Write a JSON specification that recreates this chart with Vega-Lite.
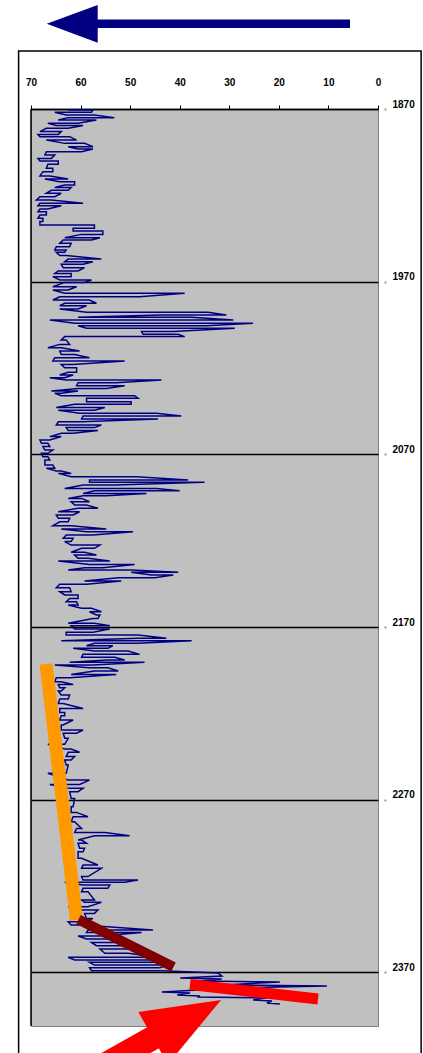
{
"$schema": "https://vega.github.io/schema/vega-lite/v6.json",
"autosize": "none",
"width": 347,
"height": 917,
"padding": {"left": 31, "top": 109, "right": 45, "bottom": 27},
"background": "white",
"config": {
  "view": {"fill": "#C0C0C0", "stroke": "#808080", "strokeWidth": 1},
  "axis": {"labelFont": "Liberation Sans", "labelFontWeight": "bold", "labelFontSize": 10, "labelColor": "#000", "title": null, "labelOverlap": false}
},
"layer": [
{
  "data": {"values": [
{"d":1870.6,"v":62.5},{"d":1870.6,"v":57.5},{"d":1871.9,"v":57.8},{"d":1871.9,"v":65.2},{"d":1873.5,"v":62.9},{"d":1873.5,"v":57.2},{"d":1875.0,"v":53.2},{"d":1875.0,"v":62.5},{"d":1876.4,"v":64.5},{"d":1876.4,"v":56.8},
{"d":1878.3,"v":60.5},{"d":1878.3,"v":66.6},{"d":1879.6,"v":64.9},{"d":1879.6,"v":59.5},{"d":1881.2,"v":62.5},{"d":1881.2,"v":66.9},{"d":1883.1,"v":68.2},{"d":1883.1,"v":63.9},{"d":1884.7,"v":64.5},{"d":1884.7,"v":68.6},
{"d":1886.0,"v":68.2},{"d":1886.0,"v":62.2},{"d":1888.0,"v":60.8},{"d":1888.0,"v":66.9},{"d":1889.9,"v":63.2},{"d":1889.9,"v":59.2},{"d":1891.8,"v":57.5},{"d":1891.8,"v":62.5},{"d":1893.2,"v":60.5},{"d":1893.2,"v":57.5},
{"d":1894.7,"v":59.8},{"d":1894.7,"v":66.9},{"d":1896.6,"v":67.2},{"d":1896.6,"v":65.2},{"d":1898.6,"v":65.9},{"d":1898.6,"v":68.6},{"d":1900.1,"v":68.2},{"d":1900.1,"v":64.5},{"d":1902.0,"v":64.5},{"d":1902.0,"v":66.6},
{"d":1904.3,"v":66.9},{"d":1904.3,"v":65.6},{"d":1906.3,"v":65.6},{"d":1906.3,"v":67.6},{"d":1908.8,"v":68.2},{"d":1908.8,"v":66.2},{"d":1910.5,"v":62.5},{"d":1910.5,"v":67.2},{"d":1912.1,"v":64.2},{"d":1912.1,"v":61.2},
{"d":1914.0,"v":61.2},{"d":1914.0,"v":63.2},{"d":1915.5,"v":65.2},{"d":1915.5,"v":61.9},{"d":1917.1,"v":62.5},{"d":1917.1,"v":65.9},{"d":1918.8,"v":66.9},{"d":1918.8,"v":63.9},{"d":1920.8,"v":65.2},{"d":1920.8,"v":68.2},
{"d":1922.7,"v":68.9},{"d":1922.7,"v":65.9},{"d":1924.6,"v":59.5},{"d":1924.6,"v":68.2},{"d":1926.0,"v":68.6},{"d":1926.0,"v":63.9},{"d":1927.9,"v":66.6},{"d":1927.9,"v":68.2},{"d":1929.5,"v":68.6},{"d":1929.5,"v":66.9},
{"d":1931.4,"v":66.9},{"d":1931.4,"v":68.2},{"d":1933.3,"v":68.6},{"d":1933.3,"v":67.6},{"d":1935.2,"v":67.6},{"d":1935.2,"v":68.2},{"d":1937.2,"v":68.2},{"d":1937.2,"v":57.2},{"d":1939.1,"v":57.2},{"d":1939.1,"v":61.5},
{"d":1940.6,"v":61.5},{"d":1940.6,"v":55.5},{"d":1942.6,"v":55.5},{"d":1942.6,"v":59.8},{"d":1944.5,"v":63.2},{"d":1944.5,"v":56.1},{"d":1945.9,"v":57.8},{"d":1945.9,"v":63.5},{"d":1947.8,"v":64.2},{"d":1947.8,"v":61.9},
{"d":1949.7,"v":62.2},{"d":1949.7,"v":64.9},{"d":1951.6,"v":65.2},{"d":1951.6,"v":62.9},{"d":1953.0,"v":63.2},{"d":1953.0,"v":64.9},{"d":1954.9,"v":64.2},{"d":1954.9,"v":62.9},{"d":1956.9,"v":55.8},{"d":1956.9,"v":62.5},
{"d":1958.4,"v":63.2},{"d":1958.4,"v":57.5},{"d":1959.9,"v":59.5},{"d":1959.9,"v":63.9},{"d":1961.9,"v":63.5},{"d":1961.9,"v":59.2},{"d":1963.8,"v":60.5},{"d":1963.8,"v":64.5},{"d":1965.2,"v":65.2},{"d":1965.2,"v":61.9},
{"d":1967.1,"v":61.9},{"d":1967.1,"v":65.6},{"d":1969.0,"v":64.2},{"d":1969.0,"v":57.8},{"d":1970.4,"v":59.2},{"d":1970.4,"v":63.2},{"d":1972.9,"v":65.6},{"d":1972.9,"v":60.8},{"d":1974.8,"v":62.5},{"d":1974.8,"v":65.6},
{"d":1976.7,"v":63.2},{"d":1976.7,"v":39.0},{"d":1978.7,"v":48.1},{"d":1978.7,"v":64.2},{"d":1980.6,"v":65.6},{"d":1980.6,"v":58.2},{"d":1982.5,"v":56.8},{"d":1982.5,"v":63.2},{"d":1983.9,"v":64.2},{"d":1983.9,"v":58.8},
{"d":1985.8,"v":60.5},{"d":1985.8,"v":64.2},{"d":1987.7,"v":58.8},{"d":1987.7,"v":34.3},{"d":1989.3,"v":30.6},{"d":1989.3,"v":43.7},{"d":1990.6,"v":60.5},{"d":1990.6,"v":37.6},{"d":1992.2,"v":29.2},{"d":1992.2,"v":66.2},
{"d":1994.1,"v":61.2},{"d":1994.1,"v":25.2},{"d":1995.5,"v":34.6},{"d":1995.5,"v":60.5},{"d":1997.0,"v":58.8},{"d":1997.0,"v":28.9},{"d":1998.9,"v":41.3},{"d":1998.9,"v":47.7},{"d":2000.5,"v":47.4},{"d":2000.5,"v":40.3},
{"d":2001.8,"v":39.0},{"d":2001.8,"v":63.2},{"d":2003.8,"v":63.9},{"d":2003.8,"v":62.9},{"d":2006.3,"v":62.2},{"d":2006.3,"v":64.2},{"d":2008.2,"v":66.6},{"d":2008.2,"v":63.9},{"d":2010.1,"v":60.2},{"d":2010.1,"v":64.2},
{"d":2012.1,"v":63.9},{"d":2012.1,"v":61.2},{"d":2014.0,"v":58.2},{"d":2014.0,"v":65.2},{"d":2015.9,"v":65.6},{"d":2015.9,"v":51.1},{"d":2017.9,"v":61.5},{"d":2017.9,"v":63.9},{"d":2019.8,"v":63.2},{"d":2019.8,"v":60.8},
{"d":2022.5,"v":60.8},{"d":2022.5,"v":62.5},{"d":2024.0,"v":64.2},{"d":2024.0,"v":61.5},{"d":2025.6,"v":63.2},{"d":2025.6,"v":66.2},{"d":2026.9,"v":62.9},{"d":2026.9,"v":43.7},{"d":2028.5,"v":52.8},{"d":2028.5,"v":60.5},
{"d":2030.2,"v":60.8},{"d":2030.2,"v":51.1},{"d":2031.8,"v":54.8},{"d":2031.8,"v":60.5},{"d":2033.3,"v":65.9},{"d":2033.3,"v":60.5},{"d":2034.6,"v":63.9},{"d":2034.6,"v":65.2},{"d":2036.0,"v":63.9},{"d":2036.0,"v":49.1},
{"d":2037.5,"v":48.4},{"d":2037.5,"v":58.8},{"d":2039.5,"v":58.8},{"d":2039.5,"v":49.8},{"d":2041.0,"v":49.8},{"d":2041.0,"v":61.2},{"d":2042.9,"v":64.9},{"d":2042.9,"v":55.1},{"d":2044.5,"v":57.2},{"d":2044.5,"v":64.5},
{"d":2046.2,"v":60.2},{"d":2046.2,"v":44.7},{"d":2047.8,"v":39.7},{"d":2047.8,"v":59.5},{"d":2049.5,"v":59.8},{"d":2049.5,"v":44.4},{"d":2051.1,"v":59.8},{"d":2051.1,"v":64.5},{"d":2053.0,"v":64.9},{"d":2053.0,"v":55.8},
{"d":2054.5,"v":57.2},{"d":2054.5,"v":62.9},{"d":2056.1,"v":62.5},{"d":2056.1,"v":56.5},{"d":2057.8,"v":61.5},{"d":2057.8,"v":63.9},{"d":2059.7,"v":66.2},{"d":2059.7,"v":63.9},{"d":2061.7,"v":66.2},{"d":2061.7,"v":68.2},
{"d":2063.6,"v":67.9},{"d":2063.6,"v":66.6},{"d":2065.5,"v":66.2},{"d":2065.5,"v":67.6},{"d":2067.5,"v":67.2},{"d":2067.5,"v":65.6},{"d":2069.4,"v":66.6},{"d":2069.4,"v":67.9},{"d":2071.3,"v":67.6},{"d":2071.3,"v":66.6},
{"d":2073.3,"v":66.2},{"d":2073.3,"v":67.2},{"d":2076.1,"v":67.2},{"d":2076.1,"v":65.6},{"d":2078.1,"v":65.2},{"d":2078.1,"v":66.9},{"d":2079.6,"v":64.9},{"d":2079.6,"v":63.9},{"d":2081.0,"v":61.9},{"d":2081.0,"v":64.5},
{"d":2082.9,"v":61.9},{"d":2082.9,"v":48.7},{"d":2084.8,"v":38.3},{"d":2084.8,"v":58.2},{"d":2086.2,"v":58.2},{"d":2086.2,"v":35.0},{"d":2087.7,"v":53.1},{"d":2087.7,"v":59.5},{"d":2089.7,"v":63.2},{"d":2089.7,"v":44.7},
{"d":2091.0,"v":40.0},{"d":2091.0,"v":57.2},{"d":2092.6,"v":59.5},{"d":2092.6,"v":46.7},{"d":2093.9,"v":54.8},{"d":2093.9,"v":59.5},{"d":2095.5,"v":62.5},{"d":2095.5,"v":59.8},{"d":2097.4,"v":58.2},{"d":2097.4,"v":61.9},
{"d":2099.3,"v":61.2},{"d":2099.3,"v":58.8},{"d":2101.2,"v":56.5},{"d":2101.2,"v":60.5},{"d":2103.2,"v":64.5},{"d":2103.2,"v":60.2},{"d":2105.1,"v":61.5},{"d":2105.1,"v":64.9},{"d":2107.0,"v":64.5},{"d":2107.0,"v":62.2},
{"d":2109.0,"v":62.5},{"d":2109.0,"v":64.2},{"d":2111.3,"v":65.6},{"d":2111.3,"v":61.9},{"d":2113.2,"v":54.8},{"d":2113.2,"v":63.9},{"d":2114.8,"v":58.8},{"d":2114.8,"v":49.4},{"d":2116.7,"v":57.5},{"d":2116.7,"v":62.9},
{"d":2118.6,"v":63.5},{"d":2118.6,"v":61.5},{"d":2120.5,"v":61.9},{"d":2120.5,"v":63.2},{"d":2122.5,"v":61.9},{"d":2122.5,"v":56.1},{"d":2124.4,"v":57.2},{"d":2124.4,"v":59.8},{"d":2126.7,"v":61.9},{"d":2126.7,"v":59.2},
{"d":2128.3,"v":56.8},{"d":2128.3,"v":61.2},{"d":2130.2,"v":60.5},{"d":2130.2,"v":58.5},{"d":2131.7,"v":54.1},{"d":2131.7,"v":64.5},{"d":2133.7,"v":58.2},{"d":2133.7,"v":49.1},{"d":2135.6,"v":55.5},{"d":2135.6,"v":59.2},
{"d":2136.9,"v":62.5},{"d":2136.9,"v":49.8},{"d":2138.3,"v":40.3},{"d":2138.3,"v":49.8},{"d":2139.8,"v":45.7},{"d":2139.8,"v":41.3},{"d":2141.4,"v":45.0},{"d":2141.4,"v":52.4},{"d":2143.3,"v":59.2},{"d":2143.3,"v":51.8},
{"d":2145.2,"v":58.8},{"d":2145.2,"v":64.2},{"d":2147.2,"v":64.9},{"d":2147.2,"v":62.2},{"d":2149.5,"v":61.9},{"d":2149.5,"v":64.2},{"d":2151.4,"v":63.2},{"d":2151.4,"v":60.5},{"d":2153.4,"v":60.5},{"d":2153.4,"v":62.2},
{"d":2155.3,"v":62.9},{"d":2155.3,"v":60.8},{"d":2157.2,"v":60.5},{"d":2157.2,"v":62.5},{"d":2159.1,"v":59.8},{"d":2159.1,"v":57.8},{"d":2161.1,"v":55.8},{"d":2161.1,"v":58.2},{"d":2163.0,"v":56.8},{"d":2163.0,"v":56.1},
{"d":2165.0,"v":56.5},{"d":2165.0,"v":57.5},{"d":2167.8,"v":62.5},{"d":2167.8,"v":57.2},{"d":2169.2,"v":54.1},{"d":2169.2,"v":61.9},{"d":2171.1,"v":61.2},{"d":2171.1,"v":54.1},{"d":2173.0,"v":57.5},{"d":2173.0,"v":62.9},
{"d":2174.6,"v":62.9},{"d":2174.6,"v":48.4},{"d":2176.5,"v":42.7},{"d":2176.5,"v":48.4},{"d":2177.9,"v":63.9},{"d":2177.9,"v":37.6},{"d":2179.4,"v":48.4},{"d":2179.4,"v":57.2},{"d":2180.8,"v":58.8},{"d":2180.8,"v":53.5},
{"d":2182.3,"v":54.5},{"d":2182.3,"v":61.5},{"d":2183.9,"v":57.2},{"d":2183.9,"v":50.4},{"d":2185.8,"v":48.1},{"d":2185.8,"v":59.5},{"d":2187.5,"v":59.8},{"d":2187.5,"v":53.1},{"d":2189.1,"v":51.1},{"d":2189.1,"v":54.5},
{"d":2190.4,"v":62.2},{"d":2190.4,"v":47.1},{"d":2192.0,"v":57.5},{"d":2192.0,"v":65.2},{"d":2193.5,"v":58.2},{"d":2193.5,"v":54.5},{"d":2195.4,"v":52.4},{"d":2195.4,"v":57.2},{"d":2197.4,"v":61.9},{"d":2197.4,"v":52.8},
{"d":2199.3,"v":62.2},{"d":2199.3,"v":64.9},{"d":2201.6,"v":65.2},{"d":2201.6,"v":63.9},{"d":2203.2,"v":61.5},{"d":2203.2,"v":64.5},{"d":2205.1,"v":64.2},{"d":2205.1,"v":63.2},{"d":2207.0,"v":63.9},{"d":2207.0,"v":64.5},
{"d":2209.3,"v":63.9},{"d":2209.3,"v":62.2},{"d":2211.6,"v":62.5},{"d":2211.6,"v":64.2},{"d":2214.2,"v":64.5},{"d":2214.2,"v":63.5},{"d":2217.1,"v":59.5},{"d":2217.1,"v":64.2},{"d":2219.4,"v":64.2},{"d":2219.4,"v":63.2},
{"d":2221.3,"v":63.2},{"d":2221.3,"v":63.9},{"d":2223.8,"v":64.2},{"d":2223.8,"v":61.5},{"d":2226.7,"v":63.5},{"d":2226.7,"v":63.9},{"d":2229.6,"v":63.9},{"d":2229.6,"v":59.5},{"d":2231.5,"v":60.8},{"d":2231.5,"v":63.5},
{"d":2234.4,"v":63.2},{"d":2234.4,"v":62.5},{"d":2237.9,"v":63.2},{"d":2237.9,"v":66.6},{"d":2240.6,"v":63.2},{"d":2240.6,"v":61.9},{"d":2242.5,"v":60.2},{"d":2242.5,"v":62.5},{"d":2245.0,"v":62.9},{"d":2245.0,"v":61.2},
{"d":2247.0,"v":61.9},{"d":2247.0,"v":63.2},{"d":2249.9,"v":62.9},{"d":2249.9,"v":62.5},{"d":2254.7,"v":62.9},{"d":2254.7,"v":66.6},{"d":2258.6,"v":62.5},{"d":2258.6,"v":58.2},{"d":2261.1,"v":60.2},{"d":2261.1,"v":66.2},
{"d":2263.4,"v":62.2},{"d":2263.4,"v":59.5},{"d":2265.3,"v":60.5},{"d":2265.3,"v":62.2},{"d":2269.2,"v":61.9},{"d":2269.2,"v":61.2},{"d":2274.0,"v":61.5},{"d":2274.0,"v":61.9},{"d":2277.3,"v":61.9},{"d":2277.3,"v":60.8},
{"d":2279.8,"v":58.5},{"d":2279.8,"v":61.5},{"d":2282.7,"v":61.9},{"d":2282.7,"v":61.2},{"d":2286.6,"v":59.8},{"d":2286.6,"v":60.8},{"d":2288.9,"v":61.2},{"d":2288.9,"v":55.1},{"d":2290.8,"v":50.1},{"d":2290.8,"v":57.2},
{"d":2293.3,"v":60.5},{"d":2293.3,"v":59.8},{"d":2295.2,"v":58.8},{"d":2295.2,"v":60.5},{"d":2298.1,"v":60.2},{"d":2298.1,"v":59.2},{"d":2300.1,"v":59.5},{"d":2300.1,"v":60.5},{"d":2303.9,"v":60.5},{"d":2303.9,"v":59.8},
{"d":2307.8,"v":56.5},{"d":2307.8,"v":59.5},{"d":2309.7,"v":59.8},{"d":2309.7,"v":55.8},{"d":2314.5,"v":58.5},{"d":2314.5,"v":59.8},{"d":2316.5,"v":59.5},{"d":2316.5,"v":48.4},{"d":2317.8,"v":51.1},{"d":2317.8,"v":63.2},
{"d":2319.4,"v":59.5},{"d":2319.4,"v":54.1},{"d":2321.3,"v":54.5},{"d":2321.3,"v":59.5},{"d":2323.2,"v":59.8},{"d":2323.2,"v":58.5},{"d":2328.0,"v":57.2},{"d":2328.0,"v":59.8},{"d":2329.4,"v":59.2},{"d":2329.4,"v":55.8},
{"d":2331.9,"v":58.5},{"d":2331.9,"v":62.5},{"d":2333.8,"v":59.8},{"d":2333.8,"v":56.5},{"d":2335.8,"v":57.2},{"d":2335.8,"v":59.2},{"d":2338.7,"v":58.8},{"d":2338.7,"v":57.5},{"d":2340.6,"v":59.8},{"d":2340.6,"v":62.5},
{"d":2342.5,"v":61.9},{"d":2342.5,"v":59.5},{"d":2345.4,"v":45.4},{"d":2345.4,"v":58.5},{"d":2346.8,"v":58.8},{"d":2346.8,"v":47.7},{"d":2348.9,"v":55.8},{"d":2348.9,"v":60.5},{"d":2350.6,"v":58.8},{"d":2350.6,"v":51.8},
{"d":2352.6,"v":50.4},{"d":2352.6,"v":57.8},{"d":2354.5,"v":56.8},{"d":2354.5,"v":48.4},{"d":2356.4,"v":47.7},{"d":2356.4,"v":56.1},{"d":2358.9,"v":55.1},{"d":2358.9,"v":50.4},{"d":2361.2,"v":44.4},{"d":2361.2,"v":62.5},
{"d":2362.8,"v":61.2},{"d":2362.8,"v":45.0},{"d":2364.1,"v":44.4},{"d":2364.1,"v":58.2},{"d":2365.7,"v":57.2},{"d":2365.7,"v":42.4},{"d":2367.2,"v":44.0},{"d":2367.2,"v":58.2},{"d":2369.0,"v":57.8},{"d":2369.0,"v":43.7},
{"d":2370.3,"v":32.3},{"d":2372.1,"v":31.5},{"d":2373.2,"v":39.9},{"d":2373.8,"v":31.5},{"d":2374.9,"v":35.9},{"d":2375.5,"v":19.8},{"d":2377.2,"v":31.3},{"d":2377.8,"v":10.3},{"d":2378.9,"v":27.8},{"d":2381.3,"v":43.6},
{"d":2381.9,"v":37.9},{"d":2383.1,"v":40.5},{"d":2383.6,"v":35.9},{"d":2384.2,"v":36.5},{"d":2384.8,"v":22.4},{"d":2385.9,"v":25.2},{"d":2386.5,"v":21.4},{"d":2387.7,"v":22.4},{"d":2388.2,"v":19.8}
  ]},
  "mark": {"type": "line", "color": "#000080", "strokeWidth": 1.5},
  "encoding": {
    "x": {"field": "v", "type": "quantitative",
      "scale": {"domain": [0, 70], "reverse": true, "nice": false, "zero": false},
      "axis": {"orient": "top", "values": [0,10,20,30,40,50,60,70], "format": "d", "tickSize": 4, "tickColor": "#000", "tickWidth": 1, "domainColor": "#000", "domainWidth": 1.5, "labelPadding": 18, "labelFlush": false, "grid": false, "title": null}},
    "y": {"field": "d", "type": "quantitative",
      "scale": {"domain": [1870, 2401], "reverse": true, "nice": false, "zero": false},
      "axis": {"orient": "right", "values": [1870,1970,2070,2170,2270,2370], "format": "d", "grid": true, "gridColor": "#000", "gridWidth": 1.5, "domain": false, "tickSize": 8, "tickDash": [0,6,2,0], "tickColor": "#999", "tickWidth": 2, "labelPadding": 6, "labelOffset": -5, "labelFlush": false, "title": null}},
    "order": {"value": null}
  }
},
{
  "data": {"values": [{}]},
  "mark": {"type": "rule", "color": "#000", "strokeWidth": 1.5},
  "encoding": {"x": {"datum": 70}}
},
{
  "data": {"values": [{"v": 66.97, "d": 2191.4, "v2": 60.82, "d2": 2339.6}]},
  "mark": {"type": "rule", "color": "#FF9900", "strokeWidth": 13, "strokeCap": "butt"},
  "encoding": {"x": {"field": "v", "type": "quantitative"}, "x2": {"field": "v2"}, "y": {"field": "d", "type": "quantitative"}, "y2": {"field": "d2"}}
},
{
  "data": {"values": [{"v": 60.42, "d": 2339.3, "v2": 41.25, "d2": 2366.8}]},
  "mark": {"type": "rule", "color": "#800000", "strokeWidth": 10, "strokeCap": "butt"},
  "encoding": {"x": {"field": "v", "type": "quantitative"}, "x2": {"field": "v2"}, "y": {"field": "d", "type": "quantitative"}, "y2": {"field": "d2"}}
},
{
  "data": {"values": [{"v": 37.92, "d": 2377.0, "v2": 12.1, "d2": 2385.4}]},
  "mark": {"type": "rule", "color": "#FF0000", "strokeWidth": 11, "strokeCap": "butt"},
  "encoding": {"x": {"field": "v", "type": "quantitative"}, "x2": {"field": "v2"}, "y": {"field": "d", "type": "quantitative"}, "y2": {"field": "d2"}}
},
{
  "data": {"values": [{"v": 56.89, "v2": 5.65, "d": 1820.66}]},
  "mark": {"type": "rule", "color": "#000080", "strokeWidth": 8.4, "strokeCap": "butt"},
  "encoding": {"x": {"field": "v", "type": "quantitative"}, "x2": {"field": "v2"}, "y": {"field": "d", "type": "quantitative"}}
},
{
  "data": {"values": [{"v": 61.69, "d": 1820.66}]},
  "mark": {"type": "point", "shape": "M-1,0L1,-0.74L1,0.74Z", "size": 2601, "filled": true, "color": "#000080", "opacity": 1},
  "encoding": {"x": {"field": "v", "type": "quantitative"}, "y": {"field": "d", "type": "quantitative"}}
},
{
  "data": {"values": [{"v": 44.38, "d": 2406.2, "v2": 64.15, "d2": 2438.1}]},
  "mark": {"type": "rule", "color": "#FF0000", "strokeWidth": 24, "strokeCap": "butt"},
  "encoding": {"x": {"field": "v", "type": "quantitative"}, "x2": {"field": "v2"}, "y": {"field": "d", "type": "quantitative"}, "y2": {"field": "d2"}}
},
{
  "data": {"values": [{"v": 38.51, "d": 2397.0}]},
  "mark": {"type": "point", "shape": "M-1,0L1,-0.77L1,0.77Z", "size": 6084, "angle": 150.6, "filled": true, "color": "#FF0000", "opacity": 1},
  "encoding": {"x": {"field": "v", "type": "quantitative"}, "y": {"field": "d", "type": "quantitative"}}
},
{
  "data": {"values": [{"v": 72.5, "v2": -8.7, "d": 1836.4, "d2": 2440}]},
  "mark": {"type": "rect", "filled": false, "color": "#000", "strokeWidth": 1.5},
  "encoding": {"x": {"field": "v", "type": "quantitative"}, "x2": {"field": "v2"}, "y": {"field": "d", "type": "quantitative"}, "y2": {"field": "d2"}}
}
]
}
